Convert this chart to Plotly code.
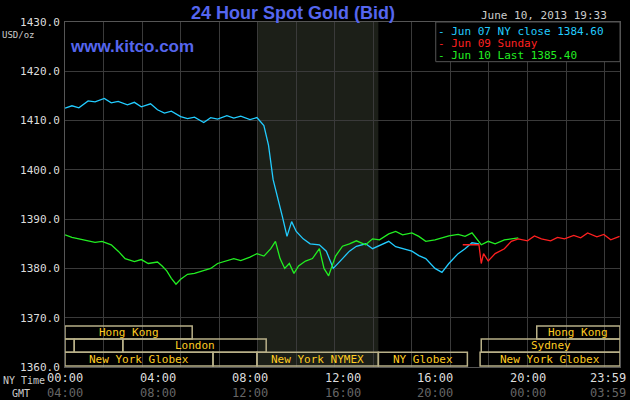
import plotly.graph_objects as go

# hours since 00:00 NY time, bid price
jun07_t = [0, 0.3, 0.6, 1.0, 1.3, 1.7, 2.0, 2.3, 2.7, 3.0, 3.3, 3.7, 4.0, 4.3, 4.6, 5.0, 5.3, 5.6, 6.0, 6.3,
           6.6, 7.0, 7.3, 7.6, 8.0, 8.3, 8.6, 8.8, 9.0, 9.2, 9.4, 9.6, 9.8, 10.0, 10.3, 10.6, 11.0, 11.3,
           11.6, 12.0, 12.3, 12.6, 13.0, 13.3, 13.6, 14.0, 14.3, 14.6, 15.0, 15.3, 15.6, 16.0, 16.3, 16.6,
           17.0, 17.3, 17.6, 17.9]
jun07_v = [1412.5, 1413.0, 1412.6, 1414.0, 1413.8, 1414.5, 1413.6, 1413.9, 1413.2, 1413.7, 1412.8, 1413.4,
           1412.2, 1411.5, 1411.9, 1410.8, 1410.4, 1410.7, 1409.6, 1410.6, 1410.3, 1411.0, 1410.5, 1410.9,
           1410.2, 1410.6, 1409.0, 1405.0, 1398.0, 1394.5, 1390.5, 1386.5, 1389.5, 1387.5, 1386.0, 1385.0,
           1384.8, 1383.5, 1380.0, 1382.0, 1383.5, 1384.5, 1385.0, 1384.0, 1384.6, 1385.5, 1384.4, 1384.0,
           1383.5, 1382.6, 1382.0, 1380.0, 1379.2, 1381.0, 1383.0, 1384.0, 1385.2, 1385.0]

jun09_t = [17.2, 17.5, 17.9, 18.0, 18.1, 18.3, 18.6, 19.0, 19.3, 19.6, 20.0, 20.3, 20.6, 21.0, 21.3, 21.6,
           22.0, 22.3, 22.6, 23.0, 23.3, 23.6, 23.98]
jun09_v = [1384.8, 1384.8, 1384.8, 1381.0, 1383.0, 1381.5, 1383.0, 1384.0, 1385.5, 1386.0, 1385.6, 1386.6,
           1386.0, 1385.6, 1386.3, 1386.0, 1386.7, 1386.2, 1387.2, 1386.4, 1386.9, 1385.8, 1386.5]

jun10_t = [0, 0.3, 0.6, 1.0, 1.3, 1.6, 2.0, 2.3, 2.6, 3.0, 3.3, 3.6, 4.0, 4.2, 4.4, 4.6, 4.8, 5.0, 5.3,
           5.6, 6.0, 6.3, 6.6, 7.0, 7.3, 7.6, 8.0, 8.3, 8.6, 8.9, 9.1, 9.3, 9.5, 9.7, 9.9, 10.1, 10.4,
           10.7, 11.0, 11.2, 11.4, 11.7, 12.0, 12.3, 12.6, 13.0, 13.3, 13.6, 14.0, 14.3, 14.6, 15.0, 15.3,
           15.6, 16.0, 16.3, 16.6, 17.0, 17.3, 17.6, 18.0, 18.3, 18.6, 19.0, 19.3, 19.6]
jun10_v = [1386.8, 1386.3, 1386.0, 1385.6, 1385.3, 1385.5, 1384.8, 1383.5, 1382.0, 1381.4, 1381.8, 1381.0,
           1381.3, 1380.5, 1379.5, 1378.0, 1376.8, 1377.8, 1378.8, 1379.0, 1379.5, 1380.0, 1381.0, 1381.5,
           1382.0, 1381.6, 1382.3, 1383.0, 1382.5, 1384.0, 1385.5, 1382.0, 1380.0, 1381.0, 1379.0, 1380.5,
           1381.5, 1382.0, 1384.0, 1380.0, 1378.5, 1382.5, 1384.5, 1385.0, 1385.6, 1384.8, 1386.0, 1385.8,
           1387.0, 1387.5, 1386.8, 1387.2, 1386.5, 1385.5, 1385.8, 1386.2, 1386.6, 1386.9, 1386.5, 1387.2,
           1384.8, 1385.5, 1385.0, 1385.8, 1386.0, 1386.2]

y_ticks = [1360, 1370, 1380, 1390, 1400, 1410, 1420, 1430]
ny_labels = ["00:00", "04:00", "08:00", "12:00", "16:00", "20:00", "23:59"]
gmt_labels = ["04:00", "08:00", "12:00", "16:00", "20:00", "00:00", "03:59"]
label_pos = [0, 4, 8, 12, 16, 20, 23.98]

# market sessions: (start hour, end hour, row, label)
sessions = [
    (0, 5.5, 0, "Hong Kong"), (20.4, 24, 0, "Hong Kong"),
    (0, 0.4, 1, ""), (0.4, 2.5, 1, ""), (2.5, 8.7, 1, "London"), (18.0, 24, 1, "Sydney"),
    (0, 6.4, 2, "New York Globex"), (6.4, 8.3, 2, ""), (8.3, 13.55, 2, "New York NYMEX"),
    (13.55, 17.4, 2, "NY Globex"), (17.95, 24, 2, "New York Globex"),
]

mono = "DejaVu Sans Mono"
fig = go.Figure()
fig.add_trace(go.Scatter(x=jun07_t, y=jun07_v, mode="lines", line=dict(color="#22ccff", width=1.3)))
fig.add_trace(go.Scatter(x=jun10_t, y=jun10_v, mode="lines", line=dict(color="#22ee22", width=1.3)))
fig.add_trace(go.Scatter(x=jun09_t, y=jun09_v, mode="lines", line=dict(color="#ff2020", width=1.3)))

shapes = [dict(type="rect", x0=8.35, x1=13.55, y0=1360, y1=1430, fillcolor="#1c1f18",
               line=dict(width=0), layer="below")]
annotations = []
row_y = [(1368.3, 1365.7), (1365.7, 1363.0), (1363.0, 1360.2)]
for s, e, r, lab in sessions:
    y1, y0 = row_y[r]
    shapes.append(dict(type="rect", x0=s, x1=e, y0=y0, y1=y1, line=dict(color="#b8b088", width=1.5)))
    if lab:
        annotations.append(dict(x=(s + e) / 2, y=(y0 + y1) / 2, text=lab, showarrow=False,
                                font=dict(family=mono, size=11, color="#ffcc22")))

for p, a, b in zip(label_pos, ny_labels, gmt_labels):
    anchor = "right" if p > 23 else "center"
    shift = 8 if p > 23 else 0
    annotations.append(dict(x=p, y=0, yref="paper", yanchor="middle", yshift=-11, xshift=shift,
                            xanchor=anchor, text=a, showarrow=False,
                            font=dict(family=mono, size=12, color="#dddddd")))
    annotations.append(dict(x=p, y=0, yref="paper", yanchor="middle", yshift=-26, xshift=shift,
                            xanchor=anchor, text=b, showarrow=False,
                            font=dict(family=mono, size=12, color="#666666")))

annotations += [
    dict(x=-0.116, y=0, xref="paper", yref="paper", yanchor="middle", yshift=-13, xanchor="left",
         text="NY Time", showarrow=False, font=dict(family=mono, size=10, color="#cccccc")),
    dict(x=-0.1, y=0, xref="paper", yref="paper", yanchor="middle", yshift=-26, xanchor="left",
         text="GMT", showarrow=False, font=dict(family=mono, size=10, color="#cccccc")),
    dict(x=-0.117, y=1.0, xref="paper", yref="paper", yshift=-6, xanchor="left", text="USD/oz",
         showarrow=False, font=dict(family=mono, size=9, color="#cccccc")),
    dict(x=0.41, y=1.0, xref="paper", yref="paper", yanchor="bottom", yshift=-3,
         text="<b>24 Hour Spot Gold (Bid)</b>", showarrow=False,
         font=dict(family="Liberation Sans", size=18, color="#5566ee")),
    dict(x=0.98, y=1.0, xref="paper", yref="paper", xanchor="right", yanchor="bottom", yshift=-2,
         text="June 10, 2013 19:33", showarrow=False,
         font=dict(family=mono, size=11, color="#cccccc")),
    dict(x=0.005, y=1425, xref="paper", xanchor="left", text="<b>www.kitco.com</b>", showarrow=False,
         font=dict(family="Liberation Sans", size=17, color="#5566ee")),
]
legend_items = [("Jun 07 NY close 1384.60", "#22ccff"), ("Jun 09 Sunday", "#ff2020"),
                ("Jun 10 Last 1385.40", "#22ee22")]
for i, (txt, col) in enumerate(legend_items):
    annotations.append(dict(x=0.668, y=1.0, xref="paper", yref="paper", xanchor="left", yanchor="top",
                            yshift=-1 - i * 12, text="- " + txt, showarrow=False,
                            font=dict(family=mono, size=11, color=col)))
shapes.append(dict(type="rect", xref="paper", yref="paper", x0=0.668, x1=1.0, y0=0.885, y1=1.0,
                   fillcolor="black", line=dict(color="#555555", width=1)))

fig.update_layout(
    width=630, height=400,
    margin=dict(l=65, r=10, t=22, b=33),
    paper_bgcolor="black", plot_bgcolor="black",
    showlegend=False, shapes=shapes, annotations=annotations,
)
fig.update_xaxes(range=[0, 24], tick0=0, dtick=5 / 3, showticklabels=False, ticks="", automargin=False,
                 gridcolor="#3a3a3a", zeroline=False, showline=True, linecolor="#555555", mirror=True)
fig.update_yaxes(range=[1360, 1430], tickvals=y_ticks, ticktext=[f"{v:.1f}" for v in y_ticks],
                 automargin=False, ticklabelstandoff=2,
                 gridcolor="#3a3a3a", zeroline=False, showline=True, linecolor="#555555", mirror=True,
                 tickfont=dict(family=mono, size=11, color="#dddddd"))

fig.write_html("out.html", config={"displayModeBar": False},
               post_script="document.body.style.margin='0';document.body.style.background='black';")
